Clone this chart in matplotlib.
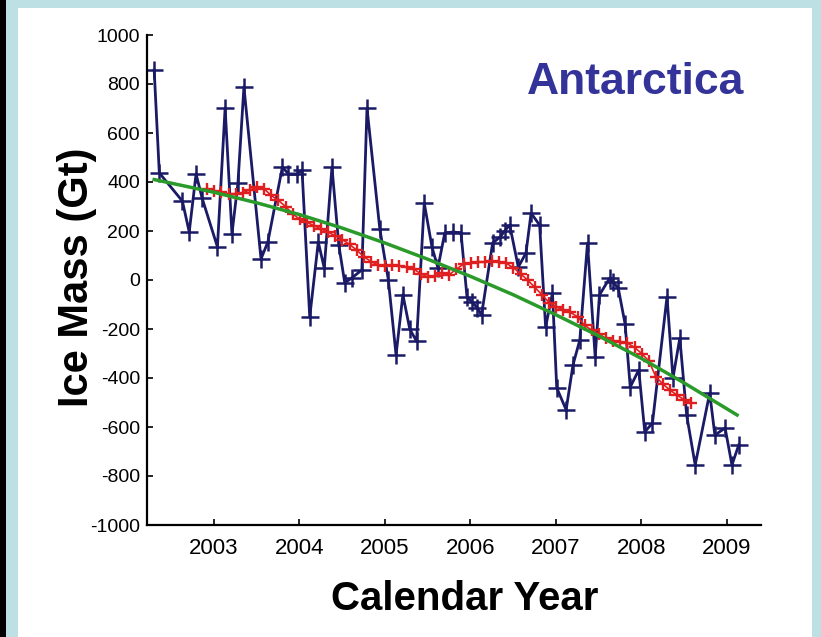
import numpy as np
import matplotlib as mplt
mplt.use("Agg")
import matplotlib.pyplot as plt
from matplotlib.patches import Rectangle

mplt.rcParams['font.family'] = ['Liberation Sans', 'DejaVu Sans']

# GRACE monthly ice mass (blue)
grace_year = [2002.30, 2002.36, 2002.63, 2002.71, 2002.79, 2002.86, 2003.04, 2003.13,
              2003.21, 2003.28, 2003.35, 2003.55, 2003.63, 2003.80, 2003.87, 2003.97,
              2004.03, 2004.12, 2004.22, 2004.29, 2004.38, 2004.46, 2004.53, 2004.61,
              2004.73, 2004.79, 2004.94, 2005.04, 2005.13, 2005.21, 2005.29, 2005.37,
              2005.46, 2005.55, 2005.62, 2005.70, 2005.80, 2005.89, 2005.96, 2006.02,
              2006.08, 2006.13, 2006.26, 2006.35, 2006.40, 2006.46, 2006.56, 2006.65,
              2006.71, 2006.81, 2006.88, 2006.96, 2007.01, 2007.12, 2007.20, 2007.28,
              2007.37, 2007.46, 2007.51, 2007.63, 2007.67, 2007.73, 2007.81, 2007.87,
              2007.97, 2008.04, 2008.13, 2008.30, 2008.37, 2008.45, 2008.53, 2008.63,
              2008.80, 2008.86, 2008.98, 2009.06, 2009.14]
grace_mass = [857, 437, 322, 196, 433, 335, 135, 702,
              188, 396, 788, 86, 155, 461, 433, 433,
              449, -151, 155, 49, 461, 143, -12, 8,
              41, 702, 208, 0, -306, -60, -200, -250,
              314, 135, 50, 192, 196, 192, -69, -90,
              -114, -143, 151, 176, 200, 224, 53, 110,
              273, 224, -192, -53, -440, -530, -347, -245,
              151, -314, -61, 8, -10, -33, -180, -437,
              -367, -620, -584, -69, -400, -237, -551, -755,
              -461, -633, -604, -755, -673]

# smoothed series (red), monthly from late 2002
smooth_year = [2002.92 + k / 12.0 for k in range(69)]
smooth_mass = [370, 362, 358, 352, 350, 356, 368, 378, 372, 345, 325, 300,
               270, 248, 235, 222, 208, 195, 180, 165, 145, 122, 95, 75,
               62, 58, 60, 58, 52, 45, 25, 12, 18, 28, 22, 45,
               65, 70, 72, 75, 78, 72, 68, 50, 25, 0, -30, -60,
               -92, -110, -122, -132, -150, -185, -205, -220, -238, -248, -252, -258,
               -275, -300, -330, -395, -425, -450, -470, -490, -502]

# fitted trend (green)
fit_year = [2002.30, 2003.0, 2003.5, 2004.0, 2004.5, 2005.0, 2005.5, 2006.0,
            2006.5, 2007.0, 2007.5, 2008.0, 2008.5, 2009.12]
fit_mass = [410, 358, 315, 267, 212, 151, 85, 15, -60, -142, -228, -320, -420, -551]

xticks = [2003, 2004, 2005, 2006, 2007, 2008, 2009]
yticks = np.arange(-1000, 1001, 200)

W, H = 821, 637
fig = plt.figure(figsize=(W / 100, H / 100), dpi=100)
fig.patch.set_facecolor("#bce0e3")
fig.patches.append(Rectangle((0, 0), 6 / W, 1, transform=fig.transFigure,
                             facecolor="black", edgecolor="none", zorder=-2))
fig.patches.append(Rectangle((18 / W, 0), (812 - 18) / W, (H - 8) / H,
                             transform=fig.transFigure, facecolor="white",
                             edgecolor="none", zorder=-2))

ax = fig.add_axes([147 / W, (H - 525) / H, (761 - 147) / W, (525 - 35) / H])
ax.set_facecolor("none")
ax.set_zorder(2)

ax.plot(grace_year, grace_mass, color="#1a1a66", lw=2.0, marker="+", ms=13,
        mew=1.8, zorder=2)
ax.plot(smooth_year, smooth_mass, color="#e02020", lw=1.2, marker="+", ms=8,
        mew=1.7, zorder=3)
ax.plot(fit_year, fit_mass, color="#2a9a2a", lw=2.5, zorder=4)

ax.set_xlim(2002.216, 2009.40)
ax.set_ylim(-1000, 1000)
ax.set_xticks(xticks)
ax.set_yticks(yticks)
ax.set_yticklabels([("-%d" % -v) if v < 0 else "%d" % v for v in yticks])
ax.tick_params(direction="in", length=4, width=1.2)
ax.tick_params(axis="y", labelsize=14, pad=5)
ax.tick_params(axis="x", labelsize=16, pad=9)
ax.spines["top"].set_visible(False)
ax.spines["right"].set_visible(False)
for s in ["left", "bottom"]:
    ax.spines[s].set_linewidth(1.6)

ax.set_ylabel("Ice Mass (Gt)", fontsize=30, fontweight="bold")
ax.set_xlabel("Calendar Year", fontsize=29, fontweight="bold")
ax.yaxis.set_label_coords(97 / W, (H - 277) / H, transform=fig.transFigure)
ax.xaxis.set_label_coords(465 / W, (H - 580) / H, transform=fig.transFigure)

fig.text(636 / W, 1 - 82 / H, "Antarctica", fontsize=32, fontweight="bold",
         color="#33339a", ha="center", va="center", zorder=3)

fig.savefig("out.png", dpi=100, facecolor=fig.get_facecolor())
